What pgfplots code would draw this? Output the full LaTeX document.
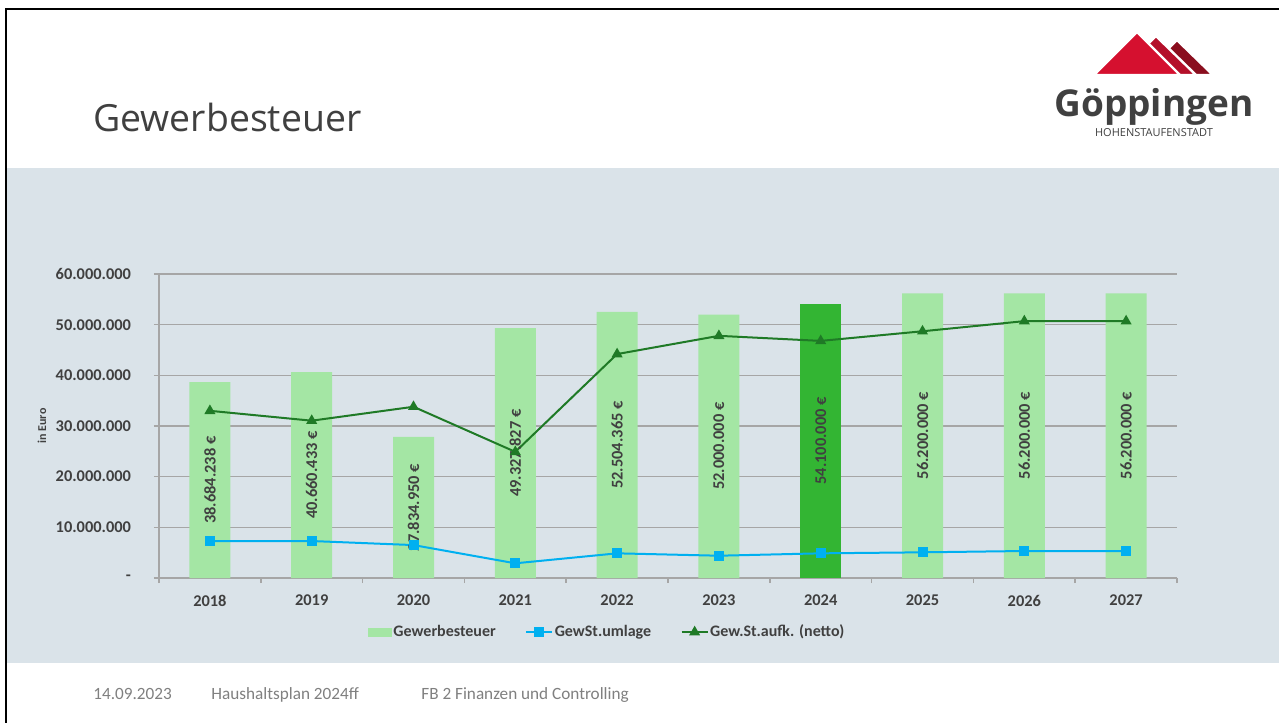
\documentclass[border=0pt]{standalone}
\usepackage{pgfplots}
\pgfplotsset{compat=1.18}
\usepackage{pgfplotstable}
\usepackage{fontspec}
\setmainfont{Carlito}
\newfontfamily\titlefont{Open Sans}
\newfontfamily\footfont{Carlito}

\definecolor{panel}{RGB}{218,227,233}
\definecolor{barlight}{RGB}{164,230,164}
\definecolor{bardark}{RGB}{51,181,51}
\definecolor{umlblue}{RGB}{0,176,240}
\definecolor{netgreen}{RGB}{31,122,38}
\definecolor{gridgray}{RGB}{166,166,166}
\definecolor{txt}{RGB}{64,64,64}
\definecolor{footgray}{RGB}{128,128,128}
\definecolor{logoA}{RGB}{213,16,47}
\definecolor{logoB}{RGB}{180,16,42}
\definecolor{logoC}{RGB}{138,14,30}

\pgfplotsset{
  shortline/.style={legend image code/.code={%
    \draw[mark repeat=2,mark phase=2,##1] plot coordinates {(0bp,0bp) (6.5bp,0bp) (13bp,0bp)};}},
}

% Gewerbesteuer per year
\pgfplotstableread{
x year g lab
0 2018 38684238 38.684.238
1 2019 40660433 40.660.433
2 2020 27834950 27.834.950
3 2021 49327827 49.327.827
4 2022 52504365 52.504.365
5 2023 52000000 52.000.000
6 2024 54100000 54.100.000
7 2025 56200000 56.200.000
8 2026 56200000 56.200.000
9 2027 56200000 56.200.000
}\gwTab

% umlage and netto
\pgfplotstableread{
x umlage netto
0 7300000 33000000
1 7300000 31050000
2 6500000 33800000
3 2900000 24900000
4 4870000 44200000
5 4400000 47800000
6 4870000 46800000
7 5070000 48700000
8 5330000 50700000
9 5330000 50700000
}\lnTab

\begin{document}
\begin{tikzpicture}
\useasboundingbox (0,0) rectangle (639.5bp,-361.5bp);
\fill[white] (0,0) rectangle (639.5bp,-361.5bp);
\begin{scope}[x=0.5bp,y=-0.5bp]
  \fill[panel] (7,168) rectangle (1279,663);
  \draw[black, line width=1bp] (6,723) -- (6,9) -- (1279,9);
  \node[anchor=base west, inner sep=0, text=txt,
        font=\titlefont\fontsize{18.7bp}{22bp}\selectfont] at (93,132) {Gewerbesteuer};
  % logo
  \fill[logoC, draw=white, line width=1.2bp] (1177,40) -- (1213,75) -- (1142,75) -- cycle;
  \fill[logoB, draw=white, line width=1.2bp] (1156,36) -- (1196,75) -- (1116,75) -- cycle;
  \fill[logoA, draw=white, line width=1.2bp] (1137,32) -- (1180,75) -- (1094,75) -- cycle;
  \node[anchor=base, inner sep=0, text=txt,
        font=\titlefont\bfseries\fontsize{18.5bp}{20bp}\selectfont] at (1154,117) {Göppingen};
  \node[anchor=base, inner sep=0, text=txt,
        font=\titlefont\fontsize{5.5bp}{6bp}\selectfont] at (1154,137) {HOHENSTAUFENSTADT};
  % footer
  \begin{scope}[every node/.style={anchor=base west, inner sep=0, text=footgray,
        font=\footfont\fontsize{8.6bp}{10bp}\selectfont}]
    \node at (93,700) {14.09.2023};
    \node at (211,700) {Haushaltsplan 2024ff};
    \node at (421,700) {FB 2 Finanzen und Controlling};
  \end{scope}
\end{scope}

\begin{axis}[
  at={(79.5bp,-289bp)}, anchor=south west,
  scale only axis, width=509bp, height=152bp,
  xmin=-0.5, xmax=9.5, ymin=0, ymax=60000000,
  axis lines*=left,
  axis line style={draw=gridgray, line width=0.75bp},
  xtick={0,...,9},
  xticklabels={2018,2019,2020,2021,2022,2023,2024,2025,2026,2027},
  major x tick style={draw=none},
  minor xtick={-0.5,0.5,...,9.5},
  ytick={0,10000000,20000000,30000000,40000000,50000000,60000000},
  yticklabels={-,10.000.000,20.000.000,30.000.000,40.000.000,50.000.000,60.000.000},
  scaled y ticks=false,
  ymajorgrids, grid style={draw=gridgray, line width=0.75bp},
  tick align=outside, major tick length=2.5bp, minor tick length=2.5bp,
  tick style={draw=gridgray, line width=0.75bp},
  ticklabel style={font=\bfseries\fontsize{8.2bp}{9.6bp}\selectfont, text=txt},
  yticklabel style={xshift=-8bp},
  xticklabel style={yshift=-2.5bp},
  ylabel={in Euro},
  ylabel style={at={(rel axis cs:-0.115,0.5)}, anchor=center,
                font=\bfseries\fontsize{6bp}{7bp}\selectfont, text=txt},
  clip=false,
  legend columns=3,
  legend style={at={(0.44,-0.178)}, anchor=center, draw=none, fill=none,
    font=\bfseries\fontsize{8bp}{9.6bp}\selectfont, text=txt,
    /tikz/every even column/.append style={column sep=14bp},
    nodes={inner sep=0.75bp}},
]
\addplot[ybar, bar width=20.5bp, fill=barlight, draw=none,
  skip coords between index={6}{7},
  legend image code/.code={\fill[barlight] (0bp,-2.25bp) rectangle (12bp,2.25bp);}]
  table[x=x, y=g]{\gwTab};
\addlegendentry{Gewerbesteuer}
% 2024 highlighted
\addplot[ybar, bar width=20.5bp, fill=bardark, draw=none, forget plot]
  coordinates {(6,54100000)};
% value labels, centred in the bars
\addplot[draw=none, mark=none, forget plot,
  point meta=explicit symbolic,
  nodes near coords={\pgfplotspointmeta~€},
  nodes near coords style={rotate=90, anchor=center, inner sep=0, text=txt,
    font=\bfseries\fontsize{8.2bp}{9.6bp}\selectfont}]
  table[x=x, y expr=\thisrow{g}/2, meta=lab]{\gwTab};
\addplot[umlblue, line width=1bp, mark=square*, mark size=2bp, shortline]
  table[x=x, y=umlage]{\lnTab};
\addlegendentry{GewSt.umlage}
\addplot[netgreen, line width=1bp, mark=triangle*, mark size=2.2bp, shortline]
  table[x=x, y=netto]{\lnTab};
\addlegendentry{Gew.St.aufk. (netto)}
\end{axis}
\end{tikzpicture}
\end{document}
